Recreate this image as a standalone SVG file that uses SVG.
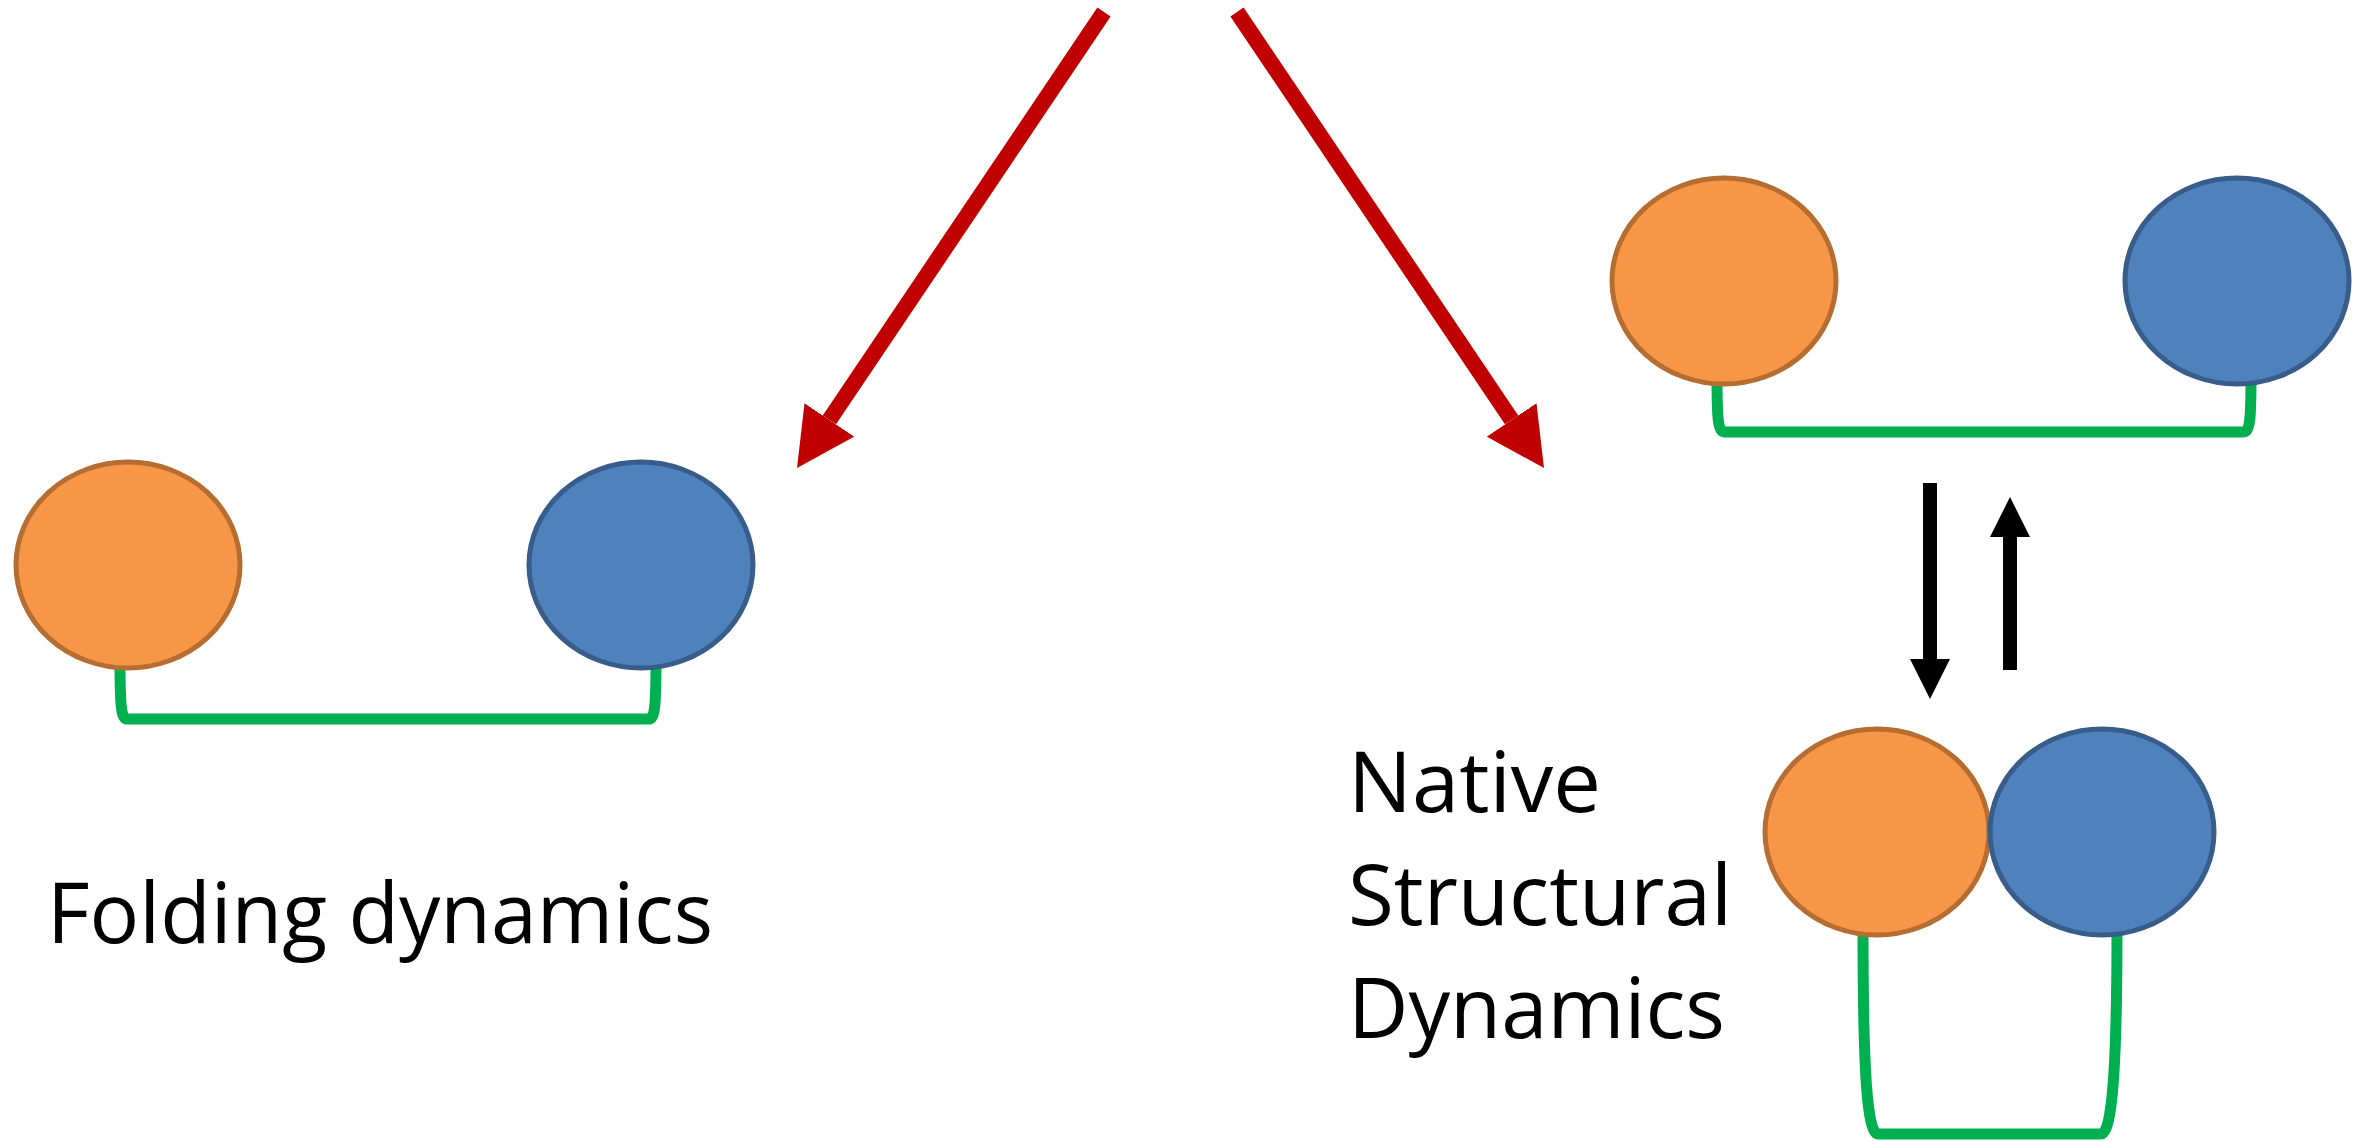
<svg xmlns="http://www.w3.org/2000/svg" width="2369" height="1141" viewBox="0 0 2369 1141">
  <style>
    .orange { fill: #F79646; stroke: #B66D31; stroke-width: 5; }
    .blue { fill: #4F81BD; stroke: #385D8A; stroke-width: 5; }
    .link { fill: none; stroke: #00B050; stroke-width: 11; stroke-linejoin: round; }
    .red { fill: none; stroke: #C00000; stroke-width: 16; stroke-linecap: butt; }
    .black { fill: none; stroke: #000000; stroke-width: 14; stroke-linecap: butt; }
    .label { font-family: "Open Sans", "Noto Sans", "Liberation Sans", sans-serif; font-size: 84px; fill: #000000; }
  </style>
  <defs>
    <marker id="redHead" markerUnits="userSpaceOnUse" markerWidth="58" markerHeight="60" viewBox="0 0 58 60" refX="0" refY="30" orient="auto">
      <path d="M0,0 L58,30 L0,60 Z" fill="#C00000"/>
    </marker>
    <marker id="blackHead" markerUnits="userSpaceOnUse" markerWidth="40" markerHeight="40" viewBox="0 0 40 40" refX="0" refY="20" orient="auto">
      <path d="M0,0 L40,20 L0,40 Z" fill="#000000"/>
    </marker>
  </defs>
  <rect width="2369" height="1141" fill="#FFFFFF"/>

  <g id="connectors">
    <path class="link" d="M120,660 C120,704 121,719 127,719 L649,719 C655,719 656,704 656,660"/>
    <path class="link" d="M1717,376 C1717,418 1718,432 1724,432 L2244,432 C2250,432 2251,418 2251,376"/>
    <path class="link" d="M1863,928 C1863,1070 1867,1134 1878,1134 L2101,1134 C2112,1134 2117,1070 2117,928"/>
    <line class="red" x1="1104" y1="12" x2="829.4" y2="419.9" marker-end="url(#redHead)"/>
    <line class="red" x1="1237" y1="12" x2="1511.6" y2="419.9" marker-end="url(#redHead)"/>
    <line class="black" x1="1930" y1="483" x2="1930" y2="659" marker-end="url(#blackHead)"/>
    <line class="black" x1="2010" y1="670" x2="2010" y2="537" marker-end="url(#blackHead)"/>
  </g>

  <g id="unfolded-left-domain">
    <ellipse class="orange" cx="128" cy="565" rx="112" ry="103"/>
  </g>
  <g id="unfolded-right-domain">
    <ellipse class="blue" cx="641" cy="565" rx="112" ry="103"/>
  </g>
  <g id="folding-label">
    <text class="label" x="47" y="943" textLength="666" lengthAdjust="spacingAndGlyphs">Folding dynamics</text>
  </g>

  <g id="open-left-domain">
    <ellipse class="orange" cx="1724" cy="281" rx="112" ry="103"/>
  </g>
  <g id="open-right-domain">
    <ellipse class="blue" cx="2237" cy="281" rx="112" ry="103"/>
  </g>

  <g id="closed-left-domain">
    <ellipse class="orange" cx="1877" cy="832" rx="112" ry="103"/>
  </g>
  <g id="closed-right-domain">
    <ellipse class="blue" cx="2102" cy="832" rx="112" ry="103"/>
  </g>
  <g id="native-label">
    <text class="label" x="1348" y="812" textLength="253" lengthAdjust="spacingAndGlyphs">Native</text>
    <text class="label" x="1348" y="925" textLength="384" lengthAdjust="spacingAndGlyphs">Structural</text>
    <text class="label" x="1348" y="1038" textLength="377" lengthAdjust="spacingAndGlyphs">Dynamics</text>
  </g>
</svg>
